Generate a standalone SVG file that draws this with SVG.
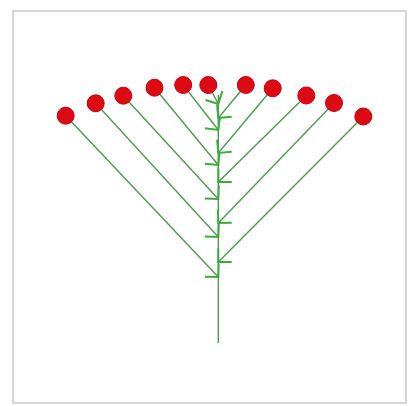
<svg xmlns="http://www.w3.org/2000/svg" width="412" height="406" viewBox="0 0 412 406">
<style>
.frame{fill:#fff;stroke:#c8c8c8;stroke-width:1.5}
.link{stroke:#4f9a4f;stroke-width:1.4;fill:none}
.node{fill:#dd0a14;stroke:#c00010;stroke-width:1}
</style>
<defs>
<marker id="arr" markerUnits="userSpaceOnUse" markerWidth="30" markerHeight="30" refX="15" refY="15" orient="auto" viewBox="0 0 30 30">
<path d="M5.5,5.5 L15,15 L5.5,24.5" fill="none" stroke="#3daa3d" stroke-width="2"/>
</marker>
</defs>
<rect class="frame" x="13" y="11" width="393" height="392"/>
<g id="connectors">
<line class="link" x1="218.3" y1="95" x2="218.3" y2="343"/>
<line class="link" marker-end="url(#arr)" x1="65.7" y1="115.7" x2="218.3" y2="277"/>
<line class="link" marker-end="url(#arr)" x1="95.7" y1="103.3" x2="218.3" y2="237"/>
<line class="link" marker-end="url(#arr)" x1="123.3" y1="95.7" x2="218.3" y2="199"/>
<line class="link" marker-end="url(#arr)" x1="154.5" y1="87.7" x2="218.3" y2="165"/>
<line class="link" marker-end="url(#arr)" x1="183.2" y1="85" x2="218.3" y2="130"/>
<line class="link" marker-end="url(#arr)" x1="208.3" y1="85" x2="218.3" y2="104"/>
<line class="link" marker-end="url(#arr)" x1="245.8" y1="85" x2="218.3" y2="118"/>
<line class="link" marker-end="url(#arr)" x1="272.7" y1="88.3" x2="218.3" y2="153"/>
<line class="link" marker-end="url(#arr)" x1="306.3" y1="95.5" x2="218.3" y2="182"/>
<line class="link" marker-end="url(#arr)" x1="334" y1="103" x2="218.3" y2="223"/>
<line class="link" marker-end="url(#arr)" x1="363.3" y1="116.5" x2="218.3" y2="262"/>
</g>
<g id="n1"><circle class="node" cx="65.7" cy="115.7" r="8.5"/></g>
<g id="n2"><circle class="node" cx="95.7" cy="103.3" r="8.5"/></g>
<g id="n3"><circle class="node" cx="123.3" cy="95.7" r="8.5"/></g>
<g id="n4"><circle class="node" cx="154.5" cy="87.7" r="8.5"/></g>
<g id="n5"><circle class="node" cx="183.2" cy="85" r="8.5"/></g>
<g id="n6"><circle class="node" cx="208.3" cy="85" r="8.5"/></g>
<g id="n7"><circle class="node" cx="245.8" cy="85" r="8.5"/></g>
<g id="n8"><circle class="node" cx="272.7" cy="88.3" r="8.5"/></g>
<g id="n9"><circle class="node" cx="306.3" cy="95.5" r="8.5"/></g>
<g id="n10"><circle class="node" cx="334" cy="103" r="8.5"/></g>
<g id="n11"><circle class="node" cx="363.3" cy="116.5" r="8.5"/></g>
</svg>
